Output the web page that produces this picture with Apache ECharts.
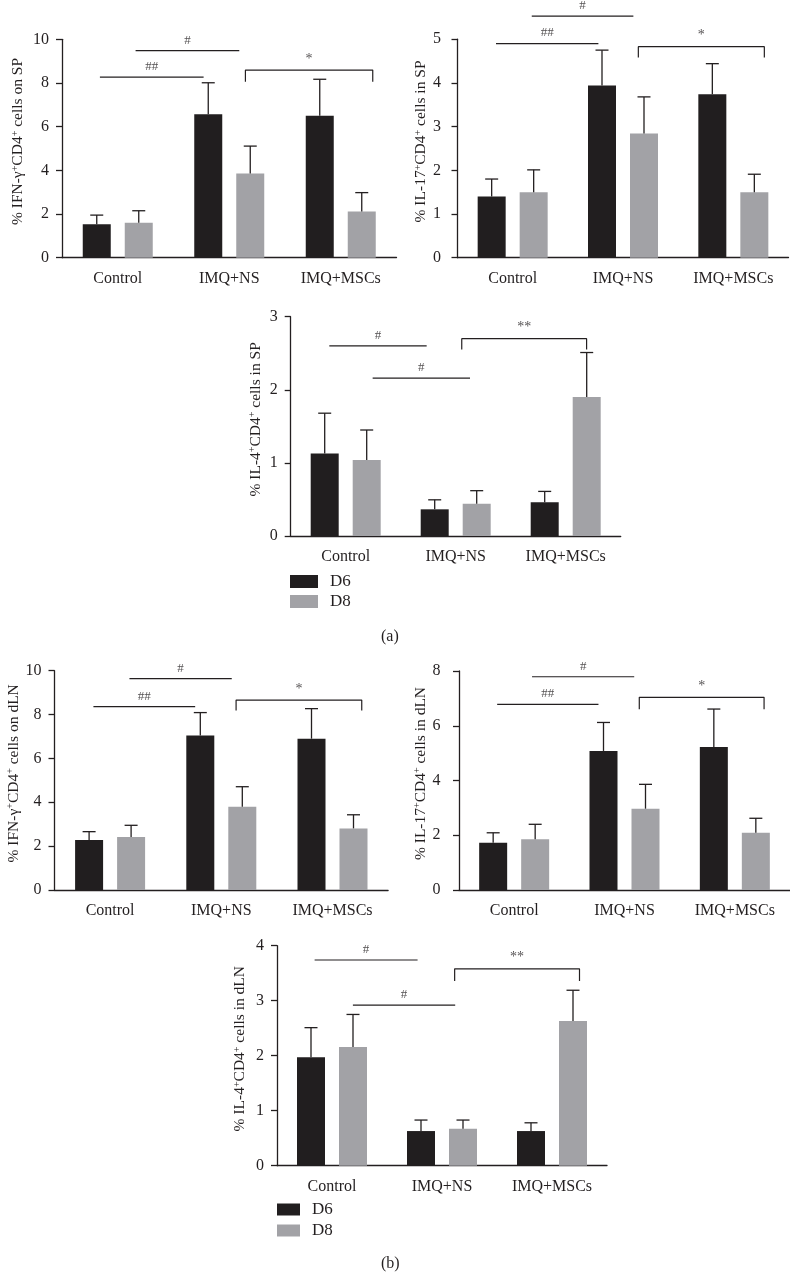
<!DOCTYPE html>
<html>
<head>
<meta charset="utf-8">
<script src="https://cdn.jsdelivr.net/npm/echarts@6/dist/echarts.min.js"></script>
<style>
html,body{margin:0;padding:0;background:#fff;}
#chart{width:790px;height:1286px;}
</style>
</head>
<body>
<div id="chart"></div>
<script>
// ---------- DATA ----------
const categories = ['Control', 'IMQ+NS', 'IMQ+MSCs'];
const seriesNames = ['D6', 'D8'];

// (a) SP – IFN-γ
const spIfnD6 = [1.53, 6.57, 6.50];
const spIfnD6Err = [0.42, 1.44, 1.67];
const spIfnD8 = [1.60, 3.86, 2.12];
const spIfnD8Err = [0.55, 1.25, 0.86];
// (a) SP – IL-17
const spIl17D6 = [1.40, 3.94, 3.74];
const spIl17D6Err = [0.40, 0.81, 0.70];
const spIl17D8 = [1.50, 2.84, 1.50];
const spIl17D8Err = [0.51, 0.84, 0.41];
// (a) SP – IL-4
const spIl4D6 = [1.13, 0.365, 0.46];
const spIl4D6Err = [0.55, 0.13, 0.15];
const spIl4D8 = [1.04, 0.44, 1.90];
const spIl4D8Err = [0.41, 0.18, 0.61];
// (b) dLN – IFN-γ
const lnIfnD6 = [2.28, 7.04, 6.90];
const lnIfnD6Err = [0.38, 1.05, 1.37];
const lnIfnD8 = [2.42, 3.80, 2.81];
const lnIfnD8Err = [0.53, 0.91, 0.62];
// (b) dLN – IL-17
const lnIl17D6 = [1.73, 5.08, 5.22];
const lnIl17D6Err = [0.36, 1.04, 1.39];
const lnIl17D8 = [1.85, 2.97, 2.09];
const lnIl17D8Err = [0.55, 0.89, 0.53];
// (b) dLN – IL-4
const lnIl4D6 = [1.97, 0.63, 0.63];
const lnIl4D6Err = [0.54, 0.20, 0.15];
const lnIl4D8 = [2.16, 0.67, 2.63];
const lnIl4D8Err = [0.59, 0.16, 0.56];

// y-axis tick labels
const spIfnTicks = [0, 2, 4, 6, 8, 10];
const spIl17Ticks = [0, 1, 2, 3, 4, 5];
const spIl4Ticks = [0, 1, 2, 3];
const lnIfnTicks = [0, 2, 4, 6, 8, 10];
const lnIl17Ticks = [0, 2, 4, 6, 8];
const lnIl4Ticks = [0, 1, 2, 3, 4];

// significance annotations: [from (category units), to, level, legLevel|null, text]
const spIfnSig = [[0.34, 1.27, 8.27, null, '##'], [0.66, 1.59, 9.48, null, '#'], [1.645, 2.787, 8.59, 8.06, '*']];
const spIl17Sig = [[0.349, 1.277, 4.90, null, '##'], [0.673, 1.594, 5.53, null, '#'], [1.639, 2.781, 4.83, 4.58, '*']];
const spIl4Sig = [[0.351, 1.236, 2.60, null, '#'], [0.745, 1.63, 2.16, null, '#'], [1.555, 2.69, 2.70, 2.55, '**']];
const lnIfnSig = [[0.35, 1.265, 8.36, null, '##'], [0.674, 1.594, 9.64, null, '#'], [1.633, 2.763, 8.66, 8.18, '*']];
const lnIl17Sig = [[0.346, 1.264, 6.78, null, '##'], [0.662, 1.588, 7.79, null, '#'], [1.634, 2.765, 7.04, 6.60, '*']];
const lnIl4Sig = [[0.342, 1.278, 3.74, null, '#'], [0.69, 1.62, 2.92, null, '#'], [1.615, 2.75, 3.58, 3.36, '**']];

// axis titles (rich text, {s|+} = superscript)
const spIfnName = '% IFN-γ{s|+}CD4{s|+} cells on SP';
const spIl17Name = '% IL-17{s|+}CD4{s|+} cells in SP';
const spIl4Name = '% IL-4{s|+}CD4{s|+} cells in SP';
const lnIfnName = '% IFN-γ{s|+}CD4{s|+} cells on dLN';
const lnIl17Name = '% IL-17{s|+}CD4{s|+} cells in dLN';
const lnIl4Name = '% IL-4{s|+}CD4{s|+} cells in dLN';

// ---------- LAYOUT / STYLE ----------
const INK = '#231f20';
const BLACK = '#211e1f';
const GRAY = '#a2a2a6';
const FONT = '"Liberation Serif", "DejaVu Serif", serif';

const panels = [
  {d6: spIfnD6, e6: spIfnD6Err, d8: spIfnD8, e8: spIfnD8Err, ticks: spIfnTicks, sig: spIfnSig, name: spIfnName,
   grid: {left: 62, top: 39.3, width: 334.5, height: 218.4}, yOffset: 0, nameGap: 36},
  {d6: spIl17D6, e6: spIl17D6Err, d8: spIl17D8, e8: spIl17D8Err, ticks: spIl17Ticks, sig: spIl17Sig, name: spIl17Name,
   grid: {left: 457.5, top: 39.2, width: 331, height: 218.5}, yOffset: 3.5, nameGap: 25},
  {d6: spIl4D6, e6: spIl4D6Err, d8: spIl4D8, e8: spIl4D8Err, ticks: spIl4Ticks, sig: spIl4Sig, name: spIl4Name,
   grid: {left: 290.7, top: 316.7, width: 330, height: 219.3}, yOffset: 0, nameGap: 27},
  {d6: lnIfnD6, e6: lnIfnD6Err, d8: lnIfnD8, e8: lnIfnD8Err, ticks: lnIfnTicks, sig: lnIfnSig, name: lnIfnName,
   grid: {left: 54.5, top: 670.7, width: 333.6, height: 219.3}, yOffset: 0, nameGap: 32},
  {d6: lnIl17D6, e6: lnIl17D6Err, d8: lnIl17D8, e8: lnIl17D8Err, ticks: lnIl17Ticks, sig: lnIl17Sig, name: lnIl17Name,
   grid: {left: 459, top: 671, width: 332.5, height: 219}, yOffset: 5.5, nameGap: 22},
  {d6: lnIl4D6, e6: lnIl4D6Err, d8: lnIl4D8, e8: lnIl4D8Err, ticks: lnIl4Ticks, sig: lnIl4Sig, name: lnIl4Name,
   grid: {left: 277, top: 945.7, width: 330, height: 220}, yOffset: 0, nameGap: 29}
];

const BAR_W = 28;
const BAR_OFF = 21; // half of (bar width + gap)

const grid = [], xAxis = [], yAxis = [], series = [];

panels.forEach((p, i) => {
  grid.push(Object.assign({containLabel: false}, p.grid));
  xAxis.push({
    type: 'category', gridIndex: i, data: categories,
    axisLine: {lineStyle: {color: INK, width: 1.3}},
    axisTick: {alignWithLabel: true, length: 6, lineStyle: {color: INK, width: 1.3}},
    axisLabel: {fontFamily: FONT, fontSize: 16, color: INK, margin: 13, interval: 0}
  });
  xAxis.push({type: 'value', gridIndex: i, min: 0, max: 3, show: false});
  const tk = p.ticks;
  yAxis.push({
    type: 'value', gridIndex: i, min: tk[0], max: tk[tk.length - 1], interval: tk[1] - tk[0],
    offset: p.yOffset,
    axisLine: {show: true, lineStyle: {color: INK, width: 1.3}},
    axisTick: {show: true, length: 6, lineStyle: {color: INK, width: 1.3}},
    splitLine: {show: false},
    axisLabel: {fontFamily: FONT, fontSize: 16, color: INK, margin: 13},
    name: p.name, nameLocation: 'middle', nameRotate: 90, nameGap: p.nameGap,
    nameTextStyle: {
      fontFamily: FONT, fontSize: 15.5, color: INK, padding: [0, 0, 0, 14],
      rich: {s: {fontFamily: FONT, fontSize: 10, color: INK, verticalAlign: 'top', lineHeight: 11}}
    }
  });
  const cx = 2 * i;
  series.push({
    type: 'bar', name: seriesNames[0], xAxisIndex: cx, yAxisIndex: i, data: p.d6,
    barWidth: BAR_W, barGap: '50%', itemStyle: {color: BLACK}, silent: true
  });
  series.push({
    type: 'bar', name: seriesNames[1], xAxisIndex: cx, yAxisIndex: i, data: p.d8,
    barWidth: BAR_W, barGap: '50%', itemStyle: {color: GRAY}, silent: true
  });
  [[p.d6, p.e6, -BAR_OFF], [p.d8, p.e8, BAR_OFF]].forEach(([vals, errs, off]) => {
    series.push({
      type: 'custom', xAxisIndex: cx, yAxisIndex: i, z: 5, silent: true,
      data: vals.map((v, k) => [k, v, errs[k]]),
      encode: {x: 0, y: 1},
      renderItem: (params, api) => {
        const c = api.value(0), m = api.value(1), e = api.value(2);
        const b = api.coord([c, m]);
        const t = api.coord([c, m + e]);
        const x = b[0] + off;
        const st = {stroke: INK, lineWidth: 1.3, fill: null};
        return {type: 'group', children: [
          {type: 'line', shape: {x1: x, y1: b[1], x2: x, y2: t[1]}, style: st},
          {type: 'line', shape: {x1: x - 6.5, y1: t[1], x2: x + 6.5, y2: t[1]}, style: st}
        ]};
      }
    });
  });
  p.sig.forEach(([a, b, y, leg, txt]) => {
    const pts = leg === null ? [[a, y], [b, y]] : [[a, leg], [a, y], [b, y], [b, leg]];
    series.push({
      type: 'line', xAxisIndex: cx + 1, yAxisIndex: i, data: pts, symbol: 'none', clip: false,
      silent: true, lineStyle: {color: INK, width: 1.2}, animation: false
    });
    series.push({
      type: 'scatter', xAxisIndex: cx + 1, yAxisIndex: i, data: [[(a + b) / 2, y]], symbolSize: 0,
      clip: false, silent: true,
      label: {show: true, position: 'top', distance: 4, formatter: txt, fontFamily: FONT,
              fontSize: txt.indexOf('*') >= 0 ? 14 : 13, color: INK}
    });
  });
});

const chart = echarts.init(document.getElementById('chart'), null, {renderer: 'canvas'});
chart.setOption({
  animation: false,
  backgroundColor: '#fff',
  grid, xAxis, yAxis, series,
  legend: [
    {data: seriesNames, left: 290, top: 573, padding: 0, orient: 'vertical', icon: 'rect', itemWidth: 28, itemHeight: 13,
     itemGap: 3, selectedMode: false,
     textStyle: {fontFamily: FONT, fontSize: 17, color: INK, padding: [0, 0, 0, 7]}},
    {data: seriesNames, left: 277, top: 1201, padding: 0, orient: 'vertical', icon: 'rect', itemWidth: 23, itemHeight: 12,
     itemGap: 4, selectedMode: false,
     textStyle: {fontFamily: FONT, fontSize: 17, color: INK, padding: [0, 0, 0, 7]}}
  ],
  graphic: [
    {type: 'text', left: 381, top: 629, style: {text: '(a)', font: '16px ' + FONT, fill: INK}},
    {type: 'text', left: 381, top: 1256, style: {text: '(b)', font: '16px ' + FONT, fill: INK}}
  ]
});
</script>
</body>
</html>
